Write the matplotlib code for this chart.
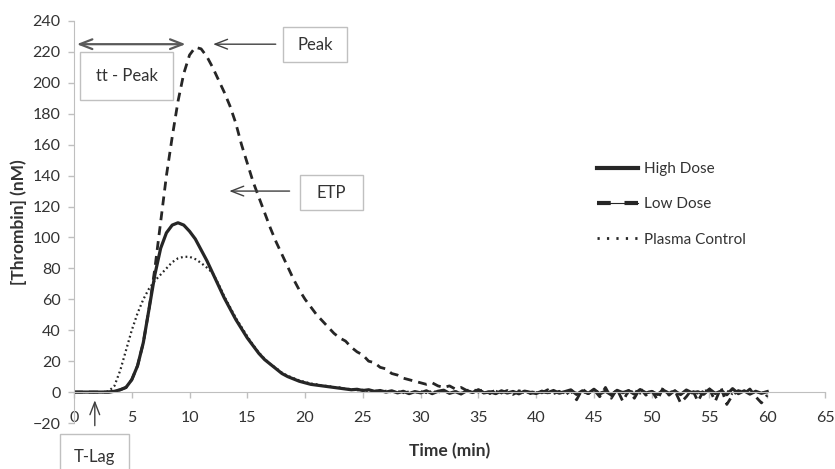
import numpy as np
import matplotlib
matplotlib.use("Agg")
import matplotlib.pyplot as plt
from matplotlib.patches import Rectangle
from matplotlib.lines import Line2D
from matplotlib.legend_handler import HandlerTuple

plt.rcParams['font.family'] = ['Lato', 'DejaVu Sans']

# time grid (min), 0.5 min step
time = np.arange(0, 60.01, 0.5)

high_dose = [
    0, 0, 0, 0, 0, 0, 0, 0.5, 1.5, 3, 8, 17, 32, 54, 76, 93, 103, 108, 109.5, 108,
    104, 99, 92, 85, 77, 69, 61, 54, 47, 41, 35, 30, 25, 21, 18, 15, 12, 10, 8.5, 7,
    6, 5, 4.5, 4, 3.5, 3, 2.5, 2, 1.5, 1.8, 1, 1.5, 0.5, 1, 0, 0.8, -0.5, 0.5, -1, 0.3,
    -0.5, 0.8, -1, 0.5, 1.2, -0.8, 0.3, -1.2, 0.9, -0.3, 1.5, -0.5, 0.2, -1, 0.8, -0.6, 0.4, -1.1, 0.6, -0.2,
    -0.9, 0.5, -0.4, 1, -0.7, 0.3, 1.4, -1.5, 0.8, -0.9, 1.8, -1.2, 0.6, -1.8, 1.1, -0.4, 0.9, -1.3, 1.6, -0.6,
    0.4, -1.5, 1.2, -0.8, 0.7, -1.6, 1.3, -0.5, 0.2, -1.4, 1.9, -0.9, 0.6, -1.7, 2.2, -1, 0.8, -1.3, 0.5, -0.8,
    0.3,
]

low_dose = [
    0, 0, 0, 0, 0, 0, 0, 0.5, 1.5, 3, 8, 17, 32, 54, 80, 110, 140, 165, 188, 206,
    218, 223, 222, 217, 210, 202, 194, 185, 174, 160, 148, 136, 126, 116, 106, 97, 89, 81, 73, 66,
    60, 55, 50, 46, 42, 38, 35, 33, 29, 26, 24, 20, 19, 16, 15, 12, 11, 9, 8, 7,
    6, 5, 6, 4, 3, 4, 2, 3, 1, 2, 0, 2, -1, 1.5, -0.5, 1, -1.5, 0.5, 1, -1,
    0.5, -0.5, 1.5, -1, 0.5, -2, 1, -5, 2, -1, 1.5, -3, 3, -4, 2, -6, 1, -4, 2.5, -2,
    1, -5, 3, -2, 1, -7, -3, 2, -6, 1, 2, -6, 3, -8, -2, 1, -1, 2, -3, -7,
    -2,
]

plasma_control = [
    0, 0, 0, 0, 0, 0, 0.5, 4, 14, 27, 40, 51, 60, 67, 72, 76, 80, 84, 86.5, 87.5,
    87.5, 86, 83.5, 80.5, 77, 70, 62, 55, 48, 42, 36, 30.5, 25.5, 21.5, 18, 15.5, 12.5, 10.5, 9, 7.5,
    6.5, 5.5, 5, 4, 4, 3, 3, 2, 2, 1.2, 1.5, 0.6, 1, 0.2, 0.8, -0.3, 0.6, -0.6, 0.4, -0.4,
    0.5, -0.6, 0.7, -0.3, 0.9, -1, 0.4, -0.5, 1.1, -0.2, 0.6, -0.9, 0.3, 0.8, -0.7, 0.2, -0.4, 1, -0.6, 0.5,
    -0.3, 0.8, -1, 0.4, 0.1, -0.8, 1.2, -0.6, 0.3, -1.1, 1.5, -0.4, 0.2, -1.3, 0.9, 0.1, -0.7, 1.2, -0.9, 0.4,
    -0.2, -1.1, 0.8, -0.3, 1.1, -1.2, 0.5, 0.2, -0.9, 0.7, 1.4, -0.6, -0.2, 0.9, -1.3, 0.6, 1, -0.8, 0.2, -0.5,
    0,
]

series_labels = ['High Dose', 'Low Dose', 'Plasma Control']
x_ticks = list(range(0, 66, 5))
y_ticks = list(range(-20, 241, 20))

W, H = 835, 469
fig = plt.figure(figsize=(W / 100, H / 100), dpi=100)
ax_l, ax_r, ax_t, ax_b = 74, 825, 21, 423
ax = fig.add_axes([ax_l / W, (H - ax_b) / H, (ax_r - ax_l) / W, (ax_b - ax_t) / H])

ink = '#262626'
ax.plot(time, high_dose, color=ink, lw=2.3, solid_joinstyle='round')
ax.plot(time, low_dose, color=ink, lw=2.0, dashes=(3.2, 2.2))
ax.plot(time, plasma_control, color=ink, lw=1.6, dashes=(0.8, 1.3))

ax.set_xlim(0, 65)
ax.set_ylim(-20, 240)
ax.set_xticks(x_ticks)
ax.set_yticks(y_ticks)
ax.set_yticklabels(['\u221220' if v < 0 else str(v) for v in y_ticks])

for s in ['top', 'right']:
    ax.spines[s].set_visible(False)
axis_gray = '#bfbfbf'
ax.spines['left'].set_color(axis_gray)
ax.spines['bottom'].set_color(axis_gray)
ax.spines['bottom'].set_position(('data', 0))
ax.tick_params(axis='both', colors=axis_gray, labelcolor='#333333', labelsize=11.5,
               length=4.5, width=1, direction='out')
ax.tick_params(axis='x', pad=9)
ax.tick_params(axis='y', pad=5)

ax.set_xlabel('Time (min)', fontsize=12.5, fontweight='bold', color='#333333')
ax.xaxis.set_label_coords(0.5, -0.05)
ax.set_ylabel('[Thrombin] (nM)', fontsize=12.5, fontweight='bold', color='#333333', labelpad=4)

# legend handles (Low Dose drawn as thick dashes joined by a thin line, as in the reference)
h_high = Line2D([], [], color=ink, lw=3.0)
h_low = (Line2D([], [], color=ink, lw=0.8),
         Line2D([], [], color=ink, lw=3.0, dashes=(3.3, 3.3)))
h_plasma = Line2D([], [], color=ink, lw=2.0, dashes=(0.8, 2.6))
leg = ax.legend([h_high, h_low, h_plasma], series_labels,
                handler_map={tuple: HandlerTuple(ndivide=1, pad=0)},
                loc='upper left',
                bbox_to_anchor=((597 - ax_l) / (ax_r - ax_l), (ax_b - 162) / (ax_b - ax_t)),
                frameon=False, fontsize=11, handlelength=2.7, handletextpad=0.35,
                labelspacing=1.4, borderpad=0, borderaxespad=0)
for t in leg.get_texts():
    t.set_color('#333333')

arrow_color = '#404040'
# tt-Peak double arrow
ax.annotate('', xy=(0, 225), xytext=(9.9, 225),
            arrowprops=dict(arrowstyle='<->,head_length=0.9,head_width=0.35', color='#595959', lw=1.6),
            annotation_clip=False)
# Peak arrow
ax.annotate('', xy=(11.8, 225), xytext=(17.7, 225),
            arrowprops=dict(arrowstyle='->,head_length=0.9,head_width=0.35', color=arrow_color, lw=1.0))
# ETP arrow
ax.annotate('', xy=(13.2, 130), xytext=(18.9, 130),
            arrowprops=dict(arrowstyle='->,head_length=0.9,head_width=0.35', color=arrow_color, lw=1.0))
# T-Lag arrow
ax.annotate('', xy=(1.8, -3.5), xytext=(1.8, -23.5),
            arrowprops=dict(arrowstyle='->,head_length=0.9,head_width=0.35', color=arrow_color, lw=1.0),
            annotation_clip=False)


def box(x0, y0, x1, y1, text):
    r = Rectangle((x0 / W, 1 - y1 / H), (x1 - x0) / W, (y1 - y0) / H, transform=fig.transFigure,
                  facecolor='white', edgecolor='#c0c0c0', lw=1.0, zorder=5)
    fig.patches.append(r)
    fig.text((x0 + x1) / 2 / W, 1 - (y0 + y1) / 2 / H, text, ha='center', va='center',
             fontsize=12, color='#333333', zorder=6)


box(283, 27, 347, 62, 'Peak')
box(80, 52, 173, 100, 'tt - Peak')
box(300, 175, 363, 210, 'ETP')
box(60, 434, 129, 480, 'T-Lag')

fig.savefig('out.png', dpi=100)
